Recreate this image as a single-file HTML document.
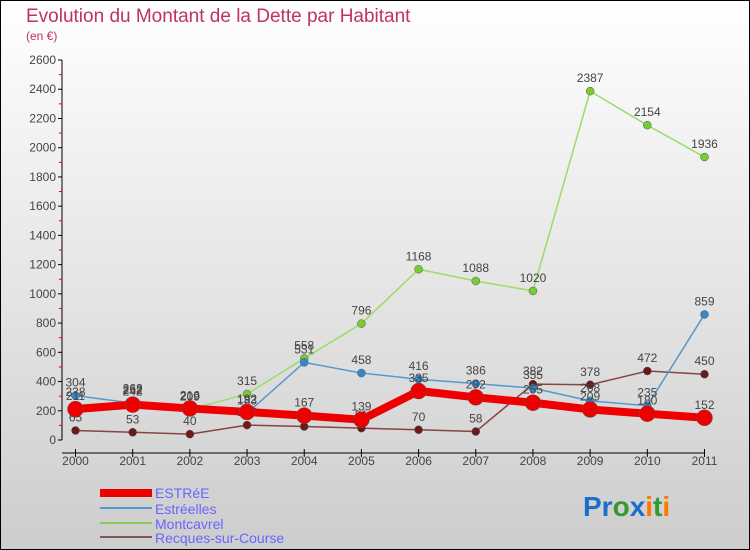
<!DOCTYPE html>
<html><head><meta charset="utf-8">
<style>
body{margin:0;width:750px;height:550px;overflow:hidden;font-family:"Liberation Sans",sans-serif}
svg{display:block}
</style></head>
<body>
<svg id="chart" width="750" height="550" xmlns="http://www.w3.org/2000/svg">
<defs>
<linearGradient id="bg" x1="0" y1="0" x2="0" y2="1">
<stop offset="0" stop-color="#ffffff"/><stop offset="1" stop-color="#cdcdcd"/>
</linearGradient>
</defs>
<rect x="0.5" y="0.5" width="749" height="549" fill="url(#bg)" stroke="#000" stroke-width="1"/>
<text x="26" y="22" font-size="19" fill="#c0306a">Evolution du Montant de la Dette par Habitant</text>
<text x="26" y="40" font-size="12" fill="#c0306a">(en €)</text>
<g id="axes"></g>
<g id="series"></g>
<g id="legend">
<rect x="100" y="489" width="52" height="8" fill="#ee0000"/>
<text x="155" y="498" font-size="14" fill="#6666ff">ESTRéE</text>
<line x1="100" y1="508" x2="152" y2="508" stroke="#5599cc" stroke-width="2"/>
<text x="155" y="514" font-size="14" fill="#6666ff">Estréelles</text>
<line x1="100" y1="523" x2="152" y2="523" stroke="#88cc55" stroke-width="2"/>
<text x="155" y="529" font-size="14" fill="#6666ff">Montcavrel</text>
<line x1="100" y1="537" x2="152" y2="537" stroke="#885555" stroke-width="2"/>
<text x="155" y="543" font-size="14" fill="#6666ff">Recques-sur-Course</text>
</g>
<g font-size="28" font-weight="bold">
<text x="583" y="516"><tspan fill="#1a6fcc">Pr</tspan><tspan fill="#339933">o</tspan><tspan fill="#1a6fcc">x</tspan><tspan fill="#ff7700">i</tspan><tspan fill="#339933">t</tspan><tspan fill="#ff7700">i</tspan></text>
</g>
</svg>
<script>
const years=["2000","2001","2002","2003","2004","2005","2006","2007","2008","2009","2010","2011"];
const estree=[211,242,216,192,167,139,335,292,255,209,180,152];
const estreelles=[304,252,209,183,531,458,416,386,355,268,235,859];
const montcavrel=[238,262,209,315,558,796,1168,1088,1020,2387,2154,1936];
const recques=[65,53,40,102,92,81,70,58,382,378,472,450];
const yTicks=[0,200,400,600,800,1000,1200,1400,1600,1800,2000,2200,2400,2600];
const NS="http://www.w3.org/2000/svg";
const x=i=>75.5+i*(704.5-75.5)/(years.length-1);
const y=v=>440-v*(380/2600);
function mk(t,a,p){const e=document.createElementNS(NS,t);for(const k in a)e.setAttribute(k,a[k]);p.appendChild(e);return e;}
const ax=document.getElementById('axes');
let l=mk('line',{x1:62,y1:y(0),x2:62,y2:y(2600),stroke:'#000'},ax);


l=mk('line',{x1:62,y1:453,x2:x(11),y2:453,stroke:'#000'},ax);


yTicks.forEach(v=>{
 mk('line',{x1:58,y1:y(v),x2:62,y2:y(v),stroke:'#000'},ax);
 if(v<2600) mk('line',{x1:59,y1:y(v+100),x2:62,y2:y(v+100),stroke:'#e00'},ax);
 const t=mk('text',{x:56,y:y(v)+4,'font-size':12,'text-anchor':'end',fill:'#444'},ax);
 t.textContent=v;
 
 
});
years.forEach((yr,i)=>{
 mk('line',{x1:x(i),y1:449,x2:x(i),y2:457,stroke:'#000'},ax);
 const t=mk('text',{x:x(i),y:465,'font-size':12,'text-anchor':'middle',fill:'#444'},ax);
 t.textContent=yr;
 
 
});
const sg=document.getElementById('series');
function series(name,vals,color,w,r,mcol){
 const g=mk('g',{},sg);
 
 
 const p=mk('polyline',{points:vals.map((v,i)=>x(i)+','+y(v)).join(' '),fill:'none',stroke:color,'stroke-width':w,'stroke-linejoin':'round'},g);
 
 
 vals.forEach((v,i)=>{
  const c=mk('circle',{cx:x(i),cy:y(v),r:r,fill:mcol,stroke:'#555','stroke-width':0.5},g);
  
  
  const t=mk('text',{x:x(i),y:y(v)-9,'font-size':12,'text-anchor':'middle',fill:'#444'},g);
  t.textContent=v;
  
  
 });
}
series('recques',recques,'#884444',1.5,4,'#6b1a1a');
series('montcavrel',montcavrel,'#99dd66',1.5,4,'#77cc33');
series('estreelles',estreelles,'#5599cc',1.5,4,'#3388cc');
series('estree',estree,'#ee0000',8,8,'#ee0000');
</script>
</body></html>
